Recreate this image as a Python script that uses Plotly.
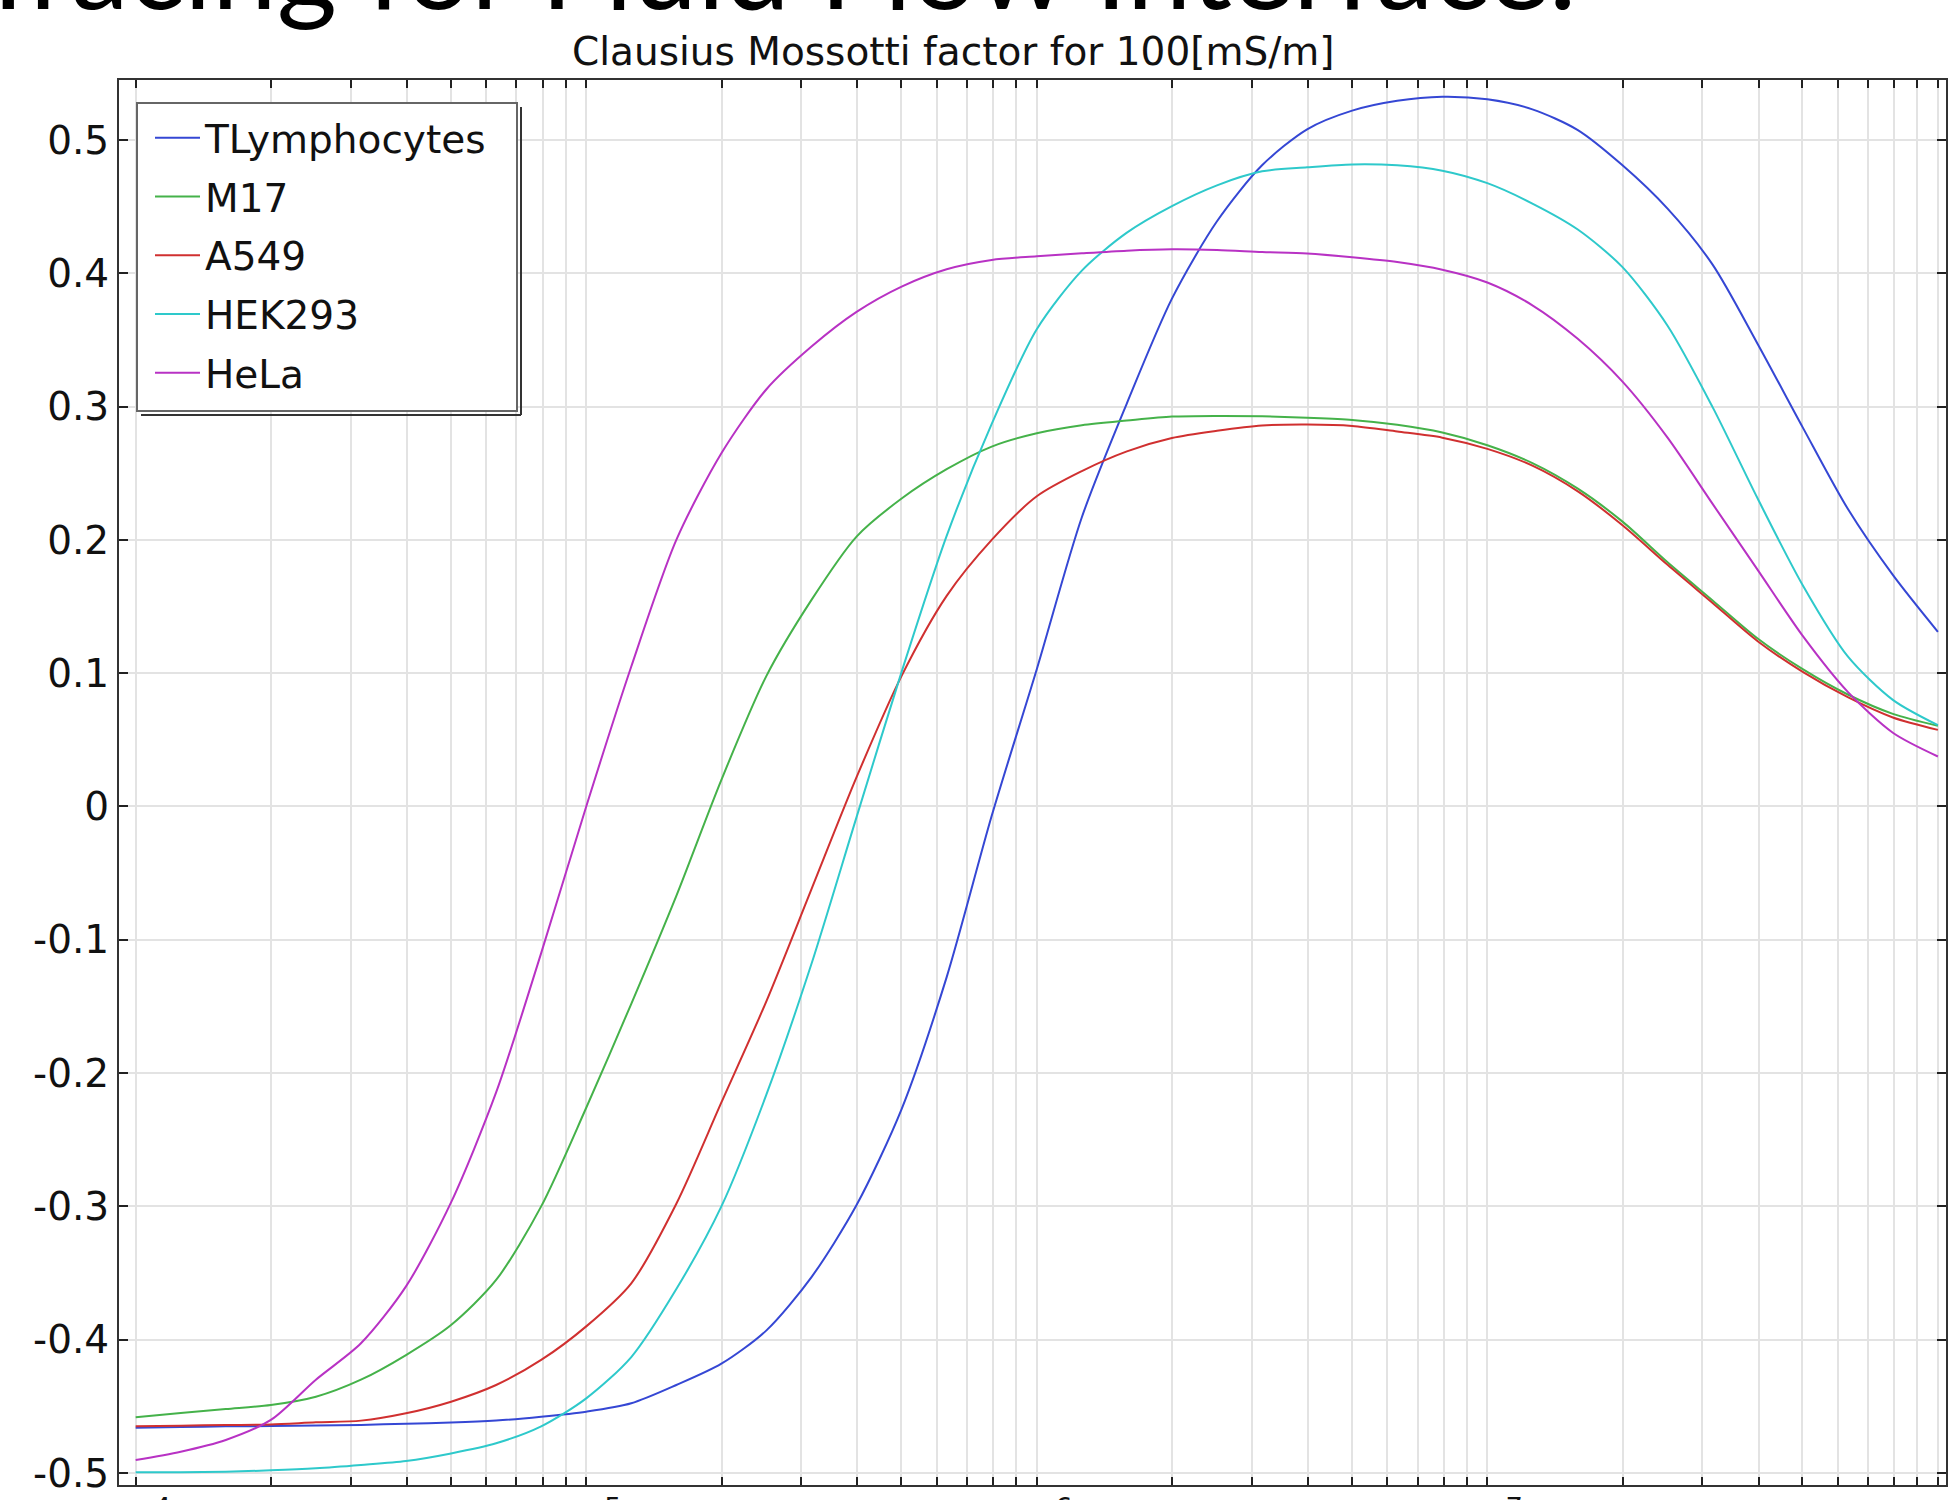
import plotly.graph_objects as go

# Frequency grid, log10(f / Hz)
log_freq = [4.0, 4.1, 4.2, 4.3, 4.4, 4.5, 4.6, 4.7, 4.8, 4.9,
            5.0, 5.1, 5.2, 5.3, 5.4, 5.5, 5.6, 5.7, 5.8, 5.9,
            6.0, 6.1, 6.2, 6.3, 6.4, 6.5, 6.6, 6.7, 6.8, 6.9,
            7.0, 7.1, 7.2, 7.3, 7.4, 7.5, 7.6, 7.7, 7.8, 7.9, 8.0]

# Real part of the Clausius-Mossotti factor, medium conductivity 100 mS/m
cm_tlymphocytes = [-0.466, -0.4655, -0.465, -0.4648, -0.4644, -0.464, -0.463, -0.4622, -0.4607, -0.4578,
                   -0.454, -0.4477, -0.434, -0.418, -0.393, -0.353, -0.299, -0.227, -0.128, -0.007,
                   0.103, 0.217, 0.3025, 0.381, 0.439, 0.481, 0.508, 0.522, 0.5294, 0.5324,
                   0.5305, 0.523, 0.5076, 0.481, 0.4485, 0.4065, 0.347, 0.2844, 0.2233, 0.1737, 0.131]

cm_m17 = [-0.4582, -0.455, -0.452, -0.449, -0.4428, -0.430, -0.4115, -0.389, -0.3552, -0.300,
          -0.226, -0.148, -0.067, 0.02, 0.098, 0.155, 0.2025, 0.231, 0.253, 0.27,
          0.28, 0.286, 0.2895, 0.2925, 0.293, 0.2927, 0.2916, 0.29, 0.2863, 0.2805,
          0.271, 0.2576, 0.2386, 0.2137, 0.1832, 0.1546, 0.126, 0.103, 0.084, 0.0695, 0.0605]

cm_a549 = [-0.465, -0.4645, -0.464, -0.4636, -0.462, -0.4607, -0.4552, -0.4465, -0.434, -0.4152,
           -0.390, -0.3577, -0.298, -0.222, -0.146, -0.062, 0.022, 0.098, 0.158, 0.2,
           0.2327, 0.2516, 0.2664, 0.2764, 0.2818, 0.2858, 0.2865, 0.2855, 0.2813, 0.2767,
           0.2683, 0.2557, 0.2366, 0.211, 0.1813, 0.1527, 0.124, 0.101, 0.082, 0.0668, 0.0575]

cm_hek293 = [-0.4995, -0.4995, -0.499, -0.498, -0.4965, -0.494, -0.491, -0.4853, -0.4777, -0.465,
             -0.444, -0.413, -0.362, -0.300, -0.216, -0.118, -0.008, 0.101, 0.203, 0.287,
             0.358, 0.402, 0.4305, 0.4504, 0.466, 0.4765, 0.4795, 0.4817, 0.481, 0.477,
             0.4676, 0.4523, 0.433, 0.4046, 0.3607, 0.2996, 0.231, 0.166, 0.1126, 0.08, 0.061]

cm_hela = [-0.4902, -0.484, -0.4752, -0.4602, -0.430, -0.4027, -0.360, -0.297, -0.2145, -0.11,
           0.0, 0.105, 0.200, 0.265, 0.313, 0.345, 0.371, 0.39, 0.403, 0.41,
           0.4127, 0.415, 0.417, 0.418, 0.4175, 0.416, 0.4148, 0.412, 0.4084, 0.4027,
           0.3931, 0.376, 0.351, 0.3187, 0.2767, 0.227, 0.1775, 0.128, 0.086, 0.0553, 0.0375]

series_names = ["TLymphocytes", "M17", "A549", "HEK293", "HeLa"]
series_values = [cm_tlymphocytes, cm_m17, cm_a549, cm_hek293, cm_hela]
series_colors = ["#3547d4", "#45b24a", "#d03030", "#2ec9cb", "#b832c4"]

y_tick_values = [-0.5, -0.4, -0.3, -0.2, -0.1, 0.0, 0.1, 0.2, 0.3, 0.4, 0.5]
y_tick_labels = ["-0.5", "-0.4", "-0.3", "-0.2", "-0.1", "0", "0.1", "0.2", "0.3", "0.4", "0.5"]

decade_exponents = [4, 5, 6, 7, 8]

freq = [10 ** e for e in log_freq]

# Log-axis ticks: one per 1..9 multiple of each decade, labels only on decades
x_tick_values = []
x_tick_labels = []
for e in decade_exponents:
    for m in range(1, 10):
        if e == decade_exponents[-1] and m > 1:
            break
        x_tick_values.append(m * 10 ** e)
        x_tick_labels.append(f"10<sup>{e}</sup>" if m == 1 else "")

W, H = 1948, 1500
ML, MR, MT, MB = 119, 2, 80, 15
PW, PH = W - ML - MR, H - MT - MB


def px_x(x):
    return (x - ML) / PW


def px_y(y):
    return (H - MB - y) / PH


fig = go.Figure()
for name, vals, col in zip(series_names, series_values, series_colors):
    fig.add_trace(go.Scatter(
        x=freq, y=vals, mode="lines", name=name, legendgroup=name,
        line=dict(color=col, width=2, shape="spline", smoothing=0.8),
    ))

axis_font = dict(family="DejaVu Sans", size=39, color="#111")

fig.update_layout(
    width=W, height=H,
    margin=dict(l=ML, r=MR, t=MT, b=MB, pad=0),
    paper_bgcolor="white", plot_bgcolor="white",
    showlegend=True,
    legend=dict(
        x=px_x(150), y=px_y(106), xanchor="left", yanchor="top",
        bgcolor="rgba(0,0,0,0)", borderwidth=0,
        font=dict(family="DejaVu Sans", size=39, color="#111"),
        itemwidth=45, tracegroupgap=5, traceorder="grouped",
    ),
    xaxis=dict(
        type="log", range=[3.963, 8.018], automargin=False,
        tickmode="array", tickvals=x_tick_values, ticktext=x_tick_labels,
        ticks="inside", ticklen=8, tickwidth=2, tickcolor="#222",
        showgrid=True, gridcolor="#e3e3e3", gridwidth=2,
        showline=True, linecolor="#333", linewidth=2, mirror="ticks",
        tickfont=axis_font, ticklabelstandoff=0, ticklabelshift=2,
        zeroline=False,
    ),
    yaxis=dict(
        range=[-0.509, 0.545], automargin=False,
        tickmode="array", tickvals=y_tick_values, ticktext=y_tick_labels,
        ticks="inside", ticklen=9, tickwidth=2, tickcolor="#222",
        showgrid=True, gridcolor="#e3e3e3", gridwidth=2,
        showline=True, linecolor="#333", linewidth=2, mirror="ticks",
        tickfont=axis_font, zeroline=False,
    ),
)

# Legend frame with a drop-line on the right and bottom edges
fig.add_shape(type="rect", xref="paper", yref="paper",
              x0=px_x(137), x1=px_x(517), y0=px_y(411), y1=px_y(103),
              line=dict(color="#666", width=2), fillcolor="white", layer="above")
fig.add_shape(type="line", xref="paper", yref="paper",
              x0=px_x(521), x1=px_x(521), y0=px_y(415), y1=px_y(107),
              line=dict(color="#333", width=2), layer="above")
fig.add_shape(type="line", xref="paper", yref="paper",
              x0=px_x(141), x1=px_x(521), y0=px_y(415), y1=px_y(415),
              line=dict(color="#333", width=2), layer="above")

# Slide heading running off the top edge
fig.add_annotation(
    text="Tracing for Fluid Flow Interface.", xref="paper", yref="paper",
    x=px_x(1578), y=px_y(-36), xanchor="right", yanchor="middle",
    showarrow=False, font=dict(family="Lato", size=116, color="black"),
)

# Plot title
fig.add_annotation(
    text="Clausius Mossotti factor for 100[mS/m]", xref="paper", yref="paper",
    x=px_x(953), y=px_y(52), xanchor="center", yanchor="middle",
    showarrow=False, font=dict(family="DejaVu Sans", size=39, color="#111"),
)

fig.write_html("out.html")
